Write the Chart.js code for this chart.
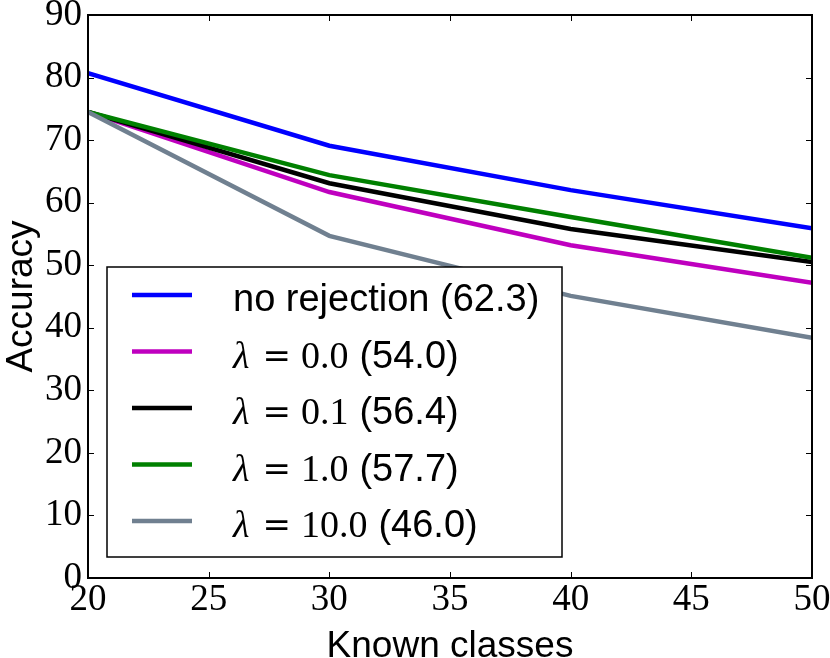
<!DOCTYPE html>
<html>
<head>
<meta charset="utf-8">
<script src="https://cdn.jsdelivr.net/npm/chart.js@4.4.1/dist/chart.umd.min.js"></script>
<style>
  html, body { margin: 0; padding: 0; background: #fff; }
  #wrap { width: 830px; height: 658px; }
</style>
</head>
<body>
<div id="wrap"><canvas id="c" width="830" height="658"></canvas></div>
<script>
// ---- data ----
const knownClasses = [20, 30, 40, 50];
const noRejection = [80.7, 69.1, 62.0, 55.9];
const lambda00 = [74.5, 61.7, 53.2, 47.2];
const lambda01 = [74.5, 63.1, 55.8, 50.5];
const lambda10 = [74.5, 64.4, 57.7, 51.2];
const lambda100 = [74.5, 54.7, 45.1, 38.4];
const seriesLambda = [null, '0.0', '0.1', '1.0', '10.0'];
const seriesMean = ['62.3', '54.0', '56.4', '57.7', '46.0'];
const seriesColors = ['#0000ff', '#bf00bf', '#000000', '#008000', '#708090'];
const xTicks = [20, 25, 30, 35, 40, 45, 50];
const yTicks = [0, 10, 20, 30, 40, 50, 60, 70, 80, 90];

const seriesValues = [noRejection, lambda00, lambda01, lambda10, lambda100];
const SERIF = '"Liberation Serif", "DejaVu Serif", serif';
const SANS = '"Liberation Sans", Arial, sans-serif';

const datasets = seriesValues.map((vals, i) => ({
  label: seriesLambda[i] === null ? 'no rejection (' + seriesMean[i] + ')'
                                  : 'λ = ' + seriesLambda[i] + ' (' + seriesMean[i] + ')',
  data: vals.map((v, j) => ({ x: knownClasses[j], y: v })),
  borderColor: seriesColors[i],
  backgroundColor: seriesColors[i],
  borderWidth: 4.5,
  pointRadius: 0,
  tension: 0,
  fill: false,
  order: seriesValues.length - 1 - i
}));

const framePlugin = {
  id: 'frame',
  afterDatasetsDraw(chart) {
    const ctx = chart.ctx;
    const a = chart.chartArea;
    const xs = chart.scales.x, ys = chart.scales.y;
    ctx.save();
    // inward ticks
    ctx.strokeStyle = '#000';
    ctx.lineWidth = 1;
    const tl = 6;
    ctx.beginPath();
    xTicks.forEach(t => {
      const px = Math.round(xs.getPixelForValue(t)) + 0.5;
      ctx.moveTo(px, a.bottom); ctx.lineTo(px, a.bottom - tl);
      ctx.moveTo(px, a.top); ctx.lineTo(px, a.top + tl);
    });
    yTicks.forEach(t => {
      const py = Math.round(ys.getPixelForValue(t)) + 0.5;
      ctx.moveTo(a.left, py); ctx.lineTo(a.left + tl, py);
      ctx.moveTo(a.right, py); ctx.lineTo(a.right - tl, py);
    });
    ctx.stroke();
    // frame
    ctx.lineWidth = 2;
    ctx.strokeRect(a.left, a.top, a.right - a.left, a.bottom - a.top);

    // legend
    const bx = a.left + 19, by = a.top + 252, bx2 = a.left + 474, by2 = a.bottom - 21;
    ctx.fillStyle = '#fff';
    ctx.fillRect(bx, by, bx2 - bx, by2 - by);
    ctx.lineWidth = 1.5;
    ctx.strokeStyle = '#000';
    ctx.strokeRect(bx, by, bx2 - bx, by2 - by);

    const rowStart = by + 28, rowGap = 56.5;
    const fs = 38;
    chart.data.datasets.forEach((ds, i) => {
      const ry = rowStart + i * rowGap;
      ctx.strokeStyle = ds.borderColor;
      ctx.lineWidth = 4.5;
      ctx.beginPath();
      ctx.moveTo(bx + 25, ry); ctx.lineTo(bx + 85, ry);
      ctx.stroke();
      ctx.fillStyle = '#000';
      ctx.textBaseline = 'alphabetic';
      ctx.textAlign = 'left';
      let tx = bx + 126;
      const base = ry + 16;
      if (seriesLambda[i] === null) {
        ctx.font = fs + 'px ' + SANS;
        ctx.fillText(ds.label, tx, base);
      } else {
        ctx.font = 'italic 38px ' + SERIF;
        ctx.fillText('λ', tx, base);
        tx += ctx.measureText('λ').width + 13;
        ctx.font = '34px "DejaVu Serif", serif';
        ctx.fillText('=', tx, base - 1);
        tx += ctx.measureText('=').width + 10;
        ctx.font = '38px ' + SERIF;
        ctx.fillText(seriesLambda[i], tx, base);
        tx += ctx.measureText(seriesLambda[i]).width + 11;
        ctx.font = fs + 'px ' + SANS;
        ctx.fillText('(' + seriesMean[i] + ')', tx, base);
      }
    });
    ctx.restore();
  }
};

new Chart(document.getElementById('c'), {
  type: 'line',
  data: { datasets },
  options: {
    responsive: false,
    animation: false,
    devicePixelRatio: 1,
    layout: { padding: { top: 15, right: 18, left: 0, bottom: 0 } },
    plugins: { legend: { display: false }, tooltip: { enabled: false } },
    scales: {
      x: {
        type: 'linear',
        min: 20, max: 50,
        afterFit(s) { s.height = 80; s.paddingLeft = 0; s.paddingRight = 0; },
        afterBuildTicks(s) { s.ticks = xTicks.map(v => ({ value: v })); },
        grid: { display: false, drawTicks: false },
        border: { display: false },
        ticks: { font: { family: SERIF, size: 37 }, color: '#000', padding: 0, maxRotation: 0 },
        title: { display: true, text: 'Known classes', color: '#000',
                 font: { family: SANS, size: 37, lineHeight: 0.6 }, padding: 0 }
      },
      y: {
        type: 'linear',
        min: 0, max: 90,
        afterFit(s) { s.width = 88; s.paddingTop = 0; s.paddingBottom = 0; },
        afterBuildTicks(s) { s.ticks = yTicks.map(v => ({ value: v })); },
        grid: { display: false, drawTicks: false },
        border: { display: false },
        ticks: { font: { family: SERIF, size: 37 }, color: '#000', padding: 6 },
        title: { display: true, text: 'Accuracy', color: '#000',
                 font: { family: SANS, size: 37, lineHeight: 1.2 }, padding: 0 }
      }
    }
  },
  plugins: [framePlugin]
});
</script>
</body>
</html>
